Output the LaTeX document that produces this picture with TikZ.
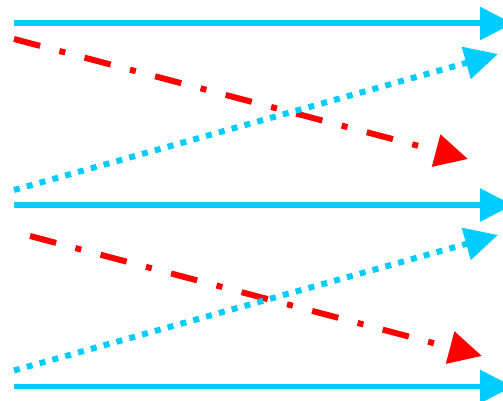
\documentclass[tikz,border=0pt]{standalone}
\definecolor{sigcyan}{RGB}{0,204,255}
\definecolor{sigred}{RGB}{255,0,0}
\usetikzlibrary{arrows.meta}

\begin{document}
\begin{tikzpicture}[x=0.02cm,y=-0.02cm,
    tip/.style={-{Triangle[length=0.66cm,width=0.64cm]}},
    wire/.style={tip,draw=sigcyan,line width=0.12cm},
    pulse/.style={tip,draw=sigred,line width=0.12cm,
      dash pattern=on 0.54cm off 0.4cm on 0.12cm off 0.4cm},
    echo/.style={tip,draw=sigcyan,line width=0.12cm,
      dash pattern=on 0.12cm off 0.146cm}]
  \useasboundingbox (0,0) rectangle (503,401);
  %% end points
  \coordinate (w1s) at (14,23.5);  \coordinate (w1e) at (513,23.5);
  \coordinate (w2s) at (14,205);   \coordinate (w2e) at (513,205);
  \coordinate (w3s) at (14,386.5); \coordinate (w3e) at (513,386.5);
  \coordinate (p1s) at (14,39);    \coordinate (p1e) at (468,159);
  \coordinate (p2s) at (30,236);   \coordinate (p2e) at (482,356);
  \coordinate (e1s) at (14,190);   \coordinate (e1e) at (498,54);
  \coordinate (e2s) at (14,370.5); \coordinate (e2e) at (498,235);
  %% solid
  \draw[wire] (w1s) -- (w1e);
  \draw[wire] (w2s) -- (w2e);
  \draw[wire] (w3s) -- (w3e);
  %% dash-dot
  \draw[pulse] (p1s) -- (p1e);
  \draw[pulse] (p2s) -- (p2e);
  %% dotted
  \draw[echo] (e1s) -- (e1e);
  \draw[echo] (e2s) -- (e2e);
\end{tikzpicture}
\end{document}
